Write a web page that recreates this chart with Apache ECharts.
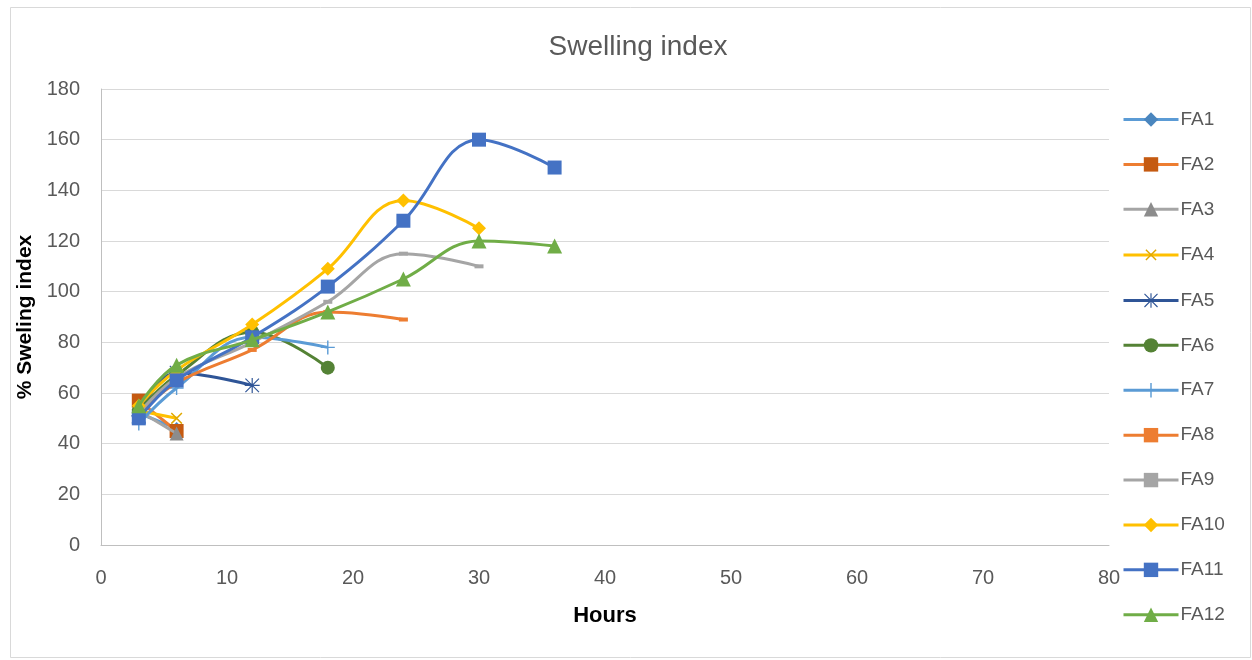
<!DOCTYPE html>
<html><head><meta charset="utf-8">
<script src="https://cdn.jsdelivr.net/npm/echarts@6/dist/echarts.min.js"></script>
<style>html,body{margin:0;padding:0;background:#fff}#c{width:1252px;height:660px}</style>
</head><body><div id="c"></div>
<script>
const title = "Swelling index";
const xName = "Hours";
const yName = "% Sweling index";
const seriesNames = ["FA1","FA2","FA3","FA4","FA5","FA6","FA7","FA8","FA9","FA10","FA11","FA12"];
const FA1_h = [3, 6];              const FA1 = [52, 46];
const FA2_h = [3, 6];              const FA2 = [57, 45];
const FA3_h = [3, 6];              const FA3 = [53, 44];
const FA4_h = [3, 6];              const FA4 = [53, 50];
const FA5_h = [3, 6, 12];          const FA5 = [51, 68, 63];
const FA6_h = [3, 6, 12, 18];      const FA6 = [53, 67, 84, 70];
const FA7_h = [3, 6, 12, 18];      const FA7 = [48, 62, 82, 78];
const FA8_h = [3, 6, 12, 18, 24];  const FA8 = [52, 64, 77, 92, 89];
const FA9_h = [3, 6, 12, 18, 24, 30];     const FA9 = [52, 66, 80, 96, 115, 110];
const FA10_h = [3, 6, 12, 18, 24, 30];    const FA10 = [55, 69, 87, 109, 136, 125];
const FA11_h = [3, 6, 12, 18, 24, 30, 36]; const FA11 = [50, 65, 82, 102, 128, 160, 149];
const FA12_h = [3, 6, 12, 18, 24, 30, 36]; const FA12 = [55, 71, 81, 92, 105, 120, 118];
const xTicks = [0, 10, 20, 30, 40, 50, 60, 70, 80];
const yTicks = [0, 20, 40, 60, 80, 100, 120, 140, 160, 180];

const hoursList = [FA1_h,FA2_h,FA3_h,FA4_h,FA5_h,FA6_h,FA7_h,FA8_h,FA9_h,FA10_h,FA11_h,FA12_h];
const valuesList = [FA1,FA2,FA3,FA4,FA5,FA6,FA7,FA8,FA9,FA10,FA11,FA12];

const PLUS = 'path://M9,0h2v20h-2z M0,9h20v2h-20z';
const AST = 'path://M9.2,0h1.6v20h-1.6z M0,9.2h20v1.6h-20z M1.5,0.4L19.6,18.5L18.5,19.6L0.4,1.5Z M18.5,0.4L19.6,1.5L1.5,19.6L0.4,18.5Z';
const styles = [
  {c:'#5B9BD5', mc:'#4A86BE', sym:'diamond', sz:13},
  {c:'#ED7D31', mc:'#C55A11', sym:'rect', sz:14},
  {c:'#A5A5A5', mc:'#8C8C8C', sym:'triangle', sz:14},
  {c:'#FFC000', mc:'#E0A800', sym:PLUS, sz:15, rot:45},
  {c:'#2F5597', mc:'#2F5597', sym:AST, sz:15},
  {c:'#548235', mc:'#548235', sym:'circle', sz:14},
  {c:'#5B9BD5', mc:'#5B9BD5', sym:PLUS, sz:14},
  {c:'#ED7D31', mc:'#ED7D31', sym:'rect', sz:[9,4]},
  {c:'#A5A5A5', mc:'#A5A5A5', sym:'rect', sz:[9,4]},
  {c:'#FFC000', mc:'#FFC000', sym:'diamond', sz:14},
  {c:'#4472C4', mc:'#4472C4', sym:'rect', sz:14},
  {c:'#70AD47', mc:'#70AD47', sym:'triangle', sz:15}
];

const series = seriesNames.map((n, i) => ({
  name: n,
  type: 'line',
  smooth: 0.4,
  data: hoursList[i].map((h, j) => [h, valuesList[i][j]]),
  symbol: styles[i].sym,
  symbolSize: styles[i].sz,
  symbolRotate: styles[i].rot || 0,
  showAllSymbol: true,
  lineStyle: {color: styles[i].c, width: 3},
  itemStyle: {color: styles[i].mc, borderWidth: 0},
  emphasis: {disabled: true},
  z: 2 + i
}));

const chart = echarts.init(document.getElementById('c'), null, {renderer: 'canvas'});
chart.setOption({
  animation: false,
  backgroundColor: '#fff',
  title: {
    text: title, left: 633, top: 28, textAlign: 'center',
    textStyle: {fontFamily: 'Liberation Sans', fontSize: 28, fontWeight: 'normal', color: '#595959'}
  },
  graphic: [{
    type: 'rect', shape: {x: 10.5, y: 7.5, width: 1240, height: 650},
    style: {fill: 'none', stroke: '#D9D9D9', lineWidth: 1}, silent: true, z: -1
  }],
  grid: {left: 101, right: 143, top: 89, bottom: 115, containLabel: false},
  legend: {
    orient: 'vertical', left: 1117, top: 105,
    itemWidth: 55, itemHeight: 18, itemGap: 25.9,
    lineStyle: {width: 3},
    textStyle: {fontFamily: 'Liberation Sans', fontSize: 19, color: '#595959', padding: [0,0,0,-3]},
    data: seriesNames
  },
  xAxis: {
    type: 'value', min: 0, max: 80, interval: 10,
    name: xName, nameLocation: 'middle', nameGap: 60,
    nameTextStyle: {fontFamily: 'Liberation Sans', fontSize: 22, fontWeight: 'bold', color: '#000'},
    axisLine: {show: true, lineStyle: {color: '#BFBFBF', width: 1}},
    axisTick: {show: false},
    splitLine: {show: false},
    axisLabel: {fontFamily: 'Liberation Sans', fontSize: 20, color: '#595959', margin: 23,
      formatter: v => xTicks.includes(v) ? String(v) : ''}
  },
  yAxis: {
    type: 'value', min: 0, max: 180, interval: 20,
    name: yName, nameLocation: 'middle', nameGap: 51, nameRotate: 90,
    nameTextStyle: {fontFamily: 'Liberation Sans', fontSize: 21, fontWeight: 'bold', color: '#000'},
    axisLine: {show: true, lineStyle: {color: '#BFBFBF', width: 1}},
    axisTick: {show: false},
    splitLine: {show: true, lineStyle: {color: '#D9D9D9', width: 1}},
    axisLabel: {fontFamily: 'Liberation Sans', fontSize: 20, color: '#595959', margin: 21,
      formatter: v => yTicks.includes(v) ? String(v) : ''}
  },
  series: series
});
</script></body></html>
